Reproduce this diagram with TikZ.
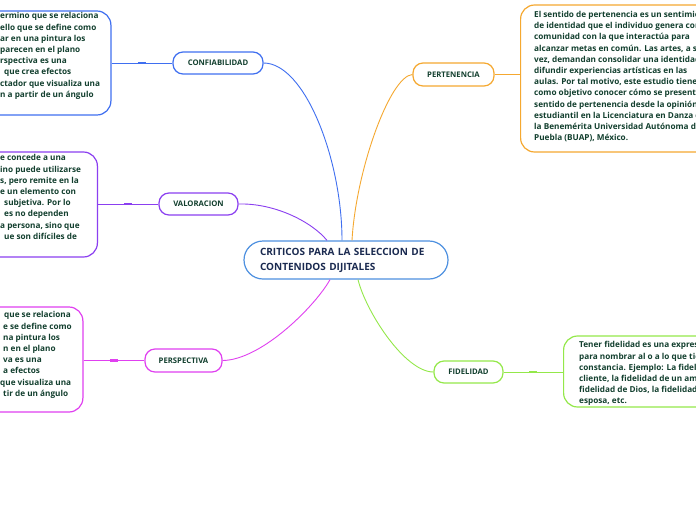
\documentclass[tikz,border=0pt]{standalone}
\usepackage{fontspec}
\setmainfont{Open Sans}
\usetikzlibrary{calc}
\definecolor{cblue}{HTML}{3F6FF0}
\definecolor{ccentral}{HTML}{4D90E0}
\definecolor{cpurple}{HTML}{8B3FF0}
\definecolor{cmagenta}{HTML}{E040F0}
\definecolor{corange}{HTML}{F5A830}
\definecolor{clime}{HTML}{94E84A}
\definecolor{tgreen}{HTML}{123F2E}
\definecolor{tnavy}{HTML}{1A2A50}
\tikzset{
  bigbox/.style={draw, line width=1.2pt, rounded corners=14pt, fill=white, inner sep=0pt},
  topic/.style={draw, line width=1.2pt, rounded corners=10pt, fill=white, inner sep=0pt,
    font=\bfseries\fontsize{7.7}{9}\selectfont, text=tgreen},
  boxtext/.style={anchor=north west, inner sep=0pt, align=left, text=tgreen,
    font=\bfseries\fontsize{8.2}{11.2}\selectfont},
  conn/.style={line width=0.9pt},
  tick/.style={line width=2.2pt}
}
\begin{document}
\begin{tikzpicture}[x=1pt,y=-1pt]
\useasboundingbox (0,0) rectangle (696,520);
\clip (0,0) rectangle (696,520);
\fill[white] (0,0) rectangle (696,520);

% central node
\node[draw=ccentral, line width=1.2pt, rounded corners=19pt, fill=white,
  text width=172pt, inner xsep=16pt, inner ysep=0pt, minimum height=38pt, align=left,
  text=tnavy, font=\bfseries\fontsize{10}{15}\selectfont] (c) at (346,260)
  {CRITICOS PARA LA SELECCION DE\\CONTENIDOS DIJITALES};

% topic nodes
\node[topic, draw=cblue, minimum width=90pt, minimum height=22pt] (n1) at (218,63) {CONFIABILIDAD};
\node[topic, draw=cpurple, minimum width=79pt, minimum height=22pt] (n2) at (198.5,204) {VALORACION};
\node[topic, draw=cmagenta, minimum width=77pt, minimum height=23pt] (n3) at (183.5,360.5) {PERSPECTIVA};
\node[topic, draw=corange, minimum width=81pt, minimum height=23pt] (n4) at (453.5,74.5) {PERTENENCIA};
\node[topic, draw=clime, minimum width=69pt, minimum height=22pt] (n5) at (468.5,372) {FIDELIDAD};

% big boxes
\node[bigbox, draw=cblue, minimum width=220pt, minimum height=104pt, anchor=east] (b1) at (111.5,63) {};
\node[bigbox, draw=cpurple, minimum width=220pt, minimum height=105pt, anchor=east] (b2) at (98,204.5) {};
\node[bigbox, draw=cmagenta, minimum width=220pt, minimum height=105pt, anchor=east] (b3) at (83.5,359.5) {};
\node[bigbox, draw=corange, minimum width=250pt, minimum height=147pt, anchor=west] (b4) at (520,78.5) {};
\node[bigbox, draw=clime, minimum width=200pt, minimum height=71pt, anchor=west] (b5) at (563,371.5) {};

% box texts
\node[boxtext] (t1) at (0,12.5) {ermino que se relaciona\\ello que se define como\\ar en una pintura los\\parecen en el plano\\rspectiva es una\\\hspace*{4pt}que crea efectos\\ctador que visualiza una\\n a partir de un ángulo};
\node[boxtext] (t2) at (0,154.5) {e concede a una\\ino puede utilizarse\\s, pero remite en la\\e un elemento con\\\hspace*{4pt}subjetiva. Por lo\\\hspace*{4pt}es no dependen\\a persona, sino que\\\hspace*{4pt}ue son difíciles de};
\node[boxtext] (t3) at (0,311.5) {\hspace*{4pt}que se relaciona\\\hspace*{3pt}e se define como\\\hspace*{3pt}na pintura los\\\hspace*{3pt}n en el plano\\\hspace*{3pt}va es una\\\hspace*{3pt}a efectos\\que visualiza una\\\hspace*{3pt}tir de un ángulo};
\node[boxtext] (t4) at (534,11) {El sentido de pertenencia es un sentimiento\\de identidad que el individuo genera con la\\comunidad con la que interactúa para\\alcanzar metas en común. Las artes, a su\\vez, demandan consolidar una identidad y\\difundir experiencias artísticas en las\\aulas. Por tal motivo, este estudio tiene\\como objetivo conocer cómo se presenta el\\sentido de pertenencia desde la opinión\\estudiantil en la Licenciatura en Danza de\\la Benemérita Universidad Autónoma de\\Puebla (BUAP), México.};
\node[boxtext] (t5) at (579,341.5) {Tener fidelidad es una expresión\\para nombrar al o a lo que tiene\\constancia. Ejemplo: La fidelidad\\cliente, la fidelidad de un amigo\\fidelidad de Dios, la fidelidad de\\esposa, etc.};

% box-to-topic connectors with tick marks
\draw[conn, cblue] (n1.west -| b1.east) -- (n1.west);
\draw[tick, cblue] ($(n1.west -| b1.east)!0.5!(n1.west)$) +(-4,0) -- +(4,0);
\draw[conn, cpurple] (n2.west -| b2.east) -- (n2.west);
\draw[tick, cpurple] ($(n2.west -| b2.east)!0.5!(n2.west)$) +(-4,0) -- +(4,0);
\draw[conn, cmagenta] (n3.west -| b3.east) -- (n3.west);
\draw[tick, cmagenta] ($(n3.west -| b3.east)!0.5!(n3.west)$) +(-4,0) -- +(4,0);
\draw[conn, corange] (n4.east) -- (n4.east -| b4.west);
\draw[conn, clime] (n5.east) -- (n5.east -| b5.west);
\draw[tick, clime] ($(n5.east)!0.5!(n5.east -| b5.west)$) +(-4,0) -- +(4,0);

% central connectors
\coordinate (cb) at ($(c.north)+(-4,0)$);
\coordinate (cp) at ($(c.north)+(-19,0)$);
\coordinate (co) at ($(c.north)+(6,0)$);
\coordinate (cm) at ($(c.south)+(-16,0)$);
\coordinate (cl) at ($(c.south)+(12,0)$);
\draw[conn, cblue] (n1.east) .. controls (305,63) and (342,160) .. (cb);
\draw[conn, cpurple] (n2.east) .. controls (275,203) and (312,222) .. (cp);
\draw[conn, cmagenta] (n3.east) .. controls (262,360) and (316,305) .. (cm);
\draw[conn, corange] (n4.west) .. controls (390,76) and (356,170) .. (co);
\draw[conn, clime] (n5.west) .. controls (405,372) and (366,312) .. (cl);
\end{tikzpicture}
\end{document}
